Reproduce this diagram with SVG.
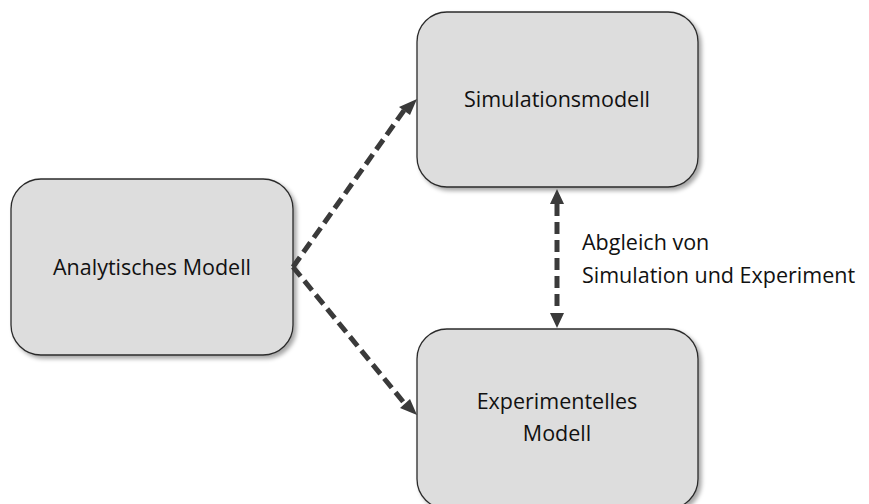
<svg xmlns="http://www.w3.org/2000/svg" width="869" height="504" viewBox="0 0 869 504">
<style>
.box{fill:#dddddd;stroke:#2b2b2b;stroke-width:1.3;filter:url(#sh)}
.t{font-family:"Open Sans","Liberation Sans",sans-serif;font-size:21.5px;fill:#111;text-anchor:middle}
.lbl{font-family:"Open Sans","Liberation Sans",sans-serif;font-size:21.5px;fill:#111}
.c{stroke:#3a3a3a;stroke-width:5;stroke-dasharray:12 6;fill:none}
.h{fill:#3a3a3a}
</style>
<defs>
<filter id="sh" x="-10%" y="-10%" width="125%" height="125%">
<feDropShadow dx="3" dy="3" stdDeviation="2" flood-color="#000" flood-opacity="0.35"/>
</filter>
</defs>
<rect width="869" height="504" fill="#fff"/>
<g id="analytisch">
<rect class="box" x="11" y="179" width="282" height="176" rx="30"/>
<text class="t" x="152" y="275">Analytisches Modell</text>
</g>
<g id="simulation">
<rect class="box" x="417" y="12" width="281" height="175" rx="30"/>
<text class="t" x="557" y="107">Simulationsmodell</text>
</g>
<g id="experiment">
<rect class="box" x="417" y="329" width="281" height="180" rx="30"/>
<text class="t" x="557" y="409">Experimentelles</text>
<text class="t" x="557" y="441">Modell</text>
</g>
<g id="connectors">
<path class="c" d="M293,267 L405,109"/>
<path class="h" d="M417,99 L399,107 L410,115 z"/>
<path class="c" d="M293,267 L405,404"/>
<path class="h" d="M417,415 L400,408 L410,399 z"/>
<path class="c" d="M557,204 L557,312" stroke-dasharray="11 6"/>
<path class="h" d="M557,189 L550,204 L564,204 z"/>
<path class="h" d="M557,328 L550,313 L564,313 z"/>
<text class="lbl" x="582" y="250">Abgleich von</text>
<text class="lbl" x="582" y="283">Simulation und Experiment</text>
</g>
</svg>
